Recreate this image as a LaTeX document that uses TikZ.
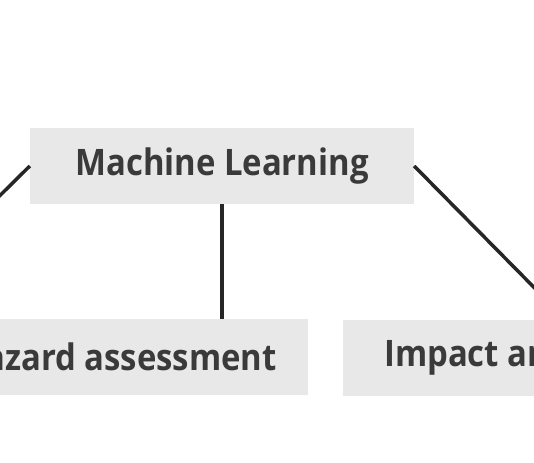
\documentclass[tikz,border=0pt]{standalone}
\usepackage{fontspec}
\setmainfont{Open Sans}[FakeStretch=0.9]
\usepackage{tikz}
\usetikzlibrary{positioning}
\definecolor{boxgray}{HTML}{E8E8E8}
\definecolor{textgray}{HTML}{3A3A3A}
\definecolor{linegray}{HTML}{262626}

\begin{document}
\begin{tikzpicture}[x=1pt, y=-1pt]
    \tikzstyle{topic} = [rectangle, fill=boxgray, text=textgray, font=\fontsize{36.5}{42}\selectfont\bfseries, minimum height=76pt, inner xsep=31pt]
    \tikzstyle{link} = [line width=3.5pt, draw=linegray]

    \useasboundingbox (0,0) rectangle (534,462);
    \clip (0,0) rectangle (534,462);

    \node[topic, minimum width=384pt] (ml) at (222,166) {Machine Learning};
    \node[topic, anchor=east] (hazard) at (308,357) {Hazard assessment};
    \node[topic, anchor=west, inner xsep=41pt] (impact) at (343,357.5) {Impact analysis};

    \coordinate (leftend) at (-40,235);
    \coordinate (rightend) at (580,334);

    \draw[link] (ml.west) -- (leftend);
    \draw[link] (ml.east) -- (rightend);
    \draw[link] (ml.south) -- (ml.south |- hazard.north);
\end{tikzpicture}
\end{document}
